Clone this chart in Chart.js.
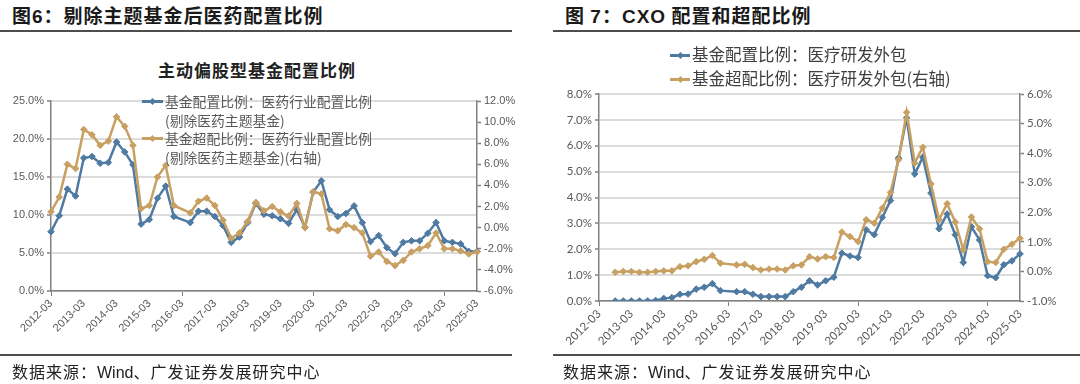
<!DOCTYPE html>
<html>
<head>
<meta charset="utf-8">
<script src="https://cdn.jsdelivr.net/npm/chart.js@4.4.1/dist/chart.umd.min.js"></script>
<style>
body { margin: 0; background: #fff; width: 1080px; height: 384px; overflow: hidden; position: relative; font-family: "Noto Sans CJK SC", sans-serif; }
.ttl { position: absolute; top: 1px; font-size: 19px; font-weight: bold; color: #1a1a1a; white-space: nowrap; letter-spacing: 1px; }
.ttl b { font-family: "Liberation Sans", Arial, sans-serif; }
.rule { position: absolute; height: 2px; background: #4d4d4d; }
.src { position: absolute; top: 359px; font-size: 16px; color: #222; white-space: nowrap; letter-spacing: 1px; }
.src span { font-family: "Liberation Sans", Arial, sans-serif; letter-spacing: 0; }
canvas { position: absolute; }
.sub { position: absolute; left: 158px; top: 57px; font-size: 17px; font-weight: bold; color: #222; letter-spacing: 1px; white-space: nowrap; }
.lg { position: absolute; white-space: nowrap; }
.lg .row { position: relative; }
.sw { position: absolute; height: 2.5px; }
.sw::after { content: ""; position: absolute; left: 50%; top: 50%; width: 5px; height: 5px; margin: -2.5px 0 0 -2.5px; background: inherit; transform: rotate(45deg); }
</style>
</head>
<body>

<div class="ttl" style="left:12px">图<b>6</b>：剔除主题基金后医药配置比例</div>
<div class="rule" style="left:0;top:30px;width:512px"></div>
<div class="ttl" style="left:565px">图 <b>7</b>：<b>CXO</b> 配置和超配比例</div>
<div class="rule" style="left:553px;top:30px;width:527px"></div>

<div class="sub">主动偏股型基金配置比例</div>

<canvas id="leftChart" width="540" height="315" style="left:0;top:40px"></canvas>
<canvas id="rightChart" width="535" height="315" style="left:545px;top:40px"></canvas>

<div class="lg" style="left:142px;top:92px;font-size:13.8px;color:#595959;line-height:18.5px">
  <div class="row" style="padding-left:23px"><i class="sw" style="left:0;top:8px;width:21px;background:#4f7aa1"></i>基金配置比例：医药行业配置比例</div>
  <div class="row" style="padding-left:23px">(剔除医药主题基金)</div>
  <div class="row" style="padding-left:23px"><i class="sw" style="left:0;top:8px;width:21px;background:#c8a062"></i>基金超配比例：医药行业配置比例</div>
  <div class="row" style="padding-left:23px">(剔除医药主题基金)(右轴)</div>
</div>

<div class="lg" style="left:670px;top:42px;font-size:16.5px;color:#404040;line-height:24px">
  <div class="row" style="padding-left:22px"><i class="sw" style="left:0;top:12px;width:20px;background:#4f7aa1"></i>基金配置比例：医疗研发外包</div>
  <div class="row" style="padding-left:22px"><i class="sw" style="left:0;top:12px;width:20px;background:#c8a062"></i>基金超配比例：医疗研发外包(右轴)</div>
</div>

<div class="rule" style="left:0;top:354px;width:512px"></div>
<div class="src" style="left:12px">数据来源：<span>Wind</span>、广发证券发展研究中心</div>
<div class="rule" style="left:553px;top:354px;width:527px"></div>
<div class="src" style="left:563px">数据来源：<span>Wind</span>、广发证券发展研究中心</div>

<script>
// 분기 라벨 (2012-03 ~ 2025-03)
const quarters = [
    '2012-03', '2012-06', '2012-09', '2012-12', '2013-03', '2013-06', '2013-09', '2013-12',
    '2014-03', '2014-06', '2014-09', '2014-12', '2015-03', '2015-06', '2015-09', '2015-12',
    '2016-03', '2016-06', '2016-09', '2016-12', '2017-03', '2017-06', '2017-09', '2017-12',
    '2018-03', '2018-06', '2018-09', '2018-12', '2019-03', '2019-06', '2019-09', '2019-12',
    '2020-03', '2020-06', '2020-09', '2020-12', '2021-03', '2021-06', '2021-09', '2021-12',
    '2022-03', '2022-06', '2022-09', '2022-12', '2023-03', '2023-06', '2023-09', '2023-12',
    '2024-03', '2024-06', '2024-09', '2024-12', '2025-03'
];

// 图6: 医药配置 / 超配 (剔除医药主题基金)
const pharmaAlloc = [
    7.8, 9.9, 13.4, 12.5, 17.5, 17.7, 16.8, 16.9, 19.6, 18.3, 16.6, 8.8, 9.4, 12.2, 13.8, 9.8,
    null, 9.0, 10.5, 10.5, 9.8, 8.6, 6.4, 7.1, 9.0, 11.5, 10.1, 9.9, 9.5, 8.9, 10.7, 8.4,
    13.0, 14.5, 10.7, 9.8, 10.2, 11.2, 9.0, 6.5, 7.3, 5.7, 4.9, 6.4, 6.6, 6.6, 7.6, 9.0,
    6.6, 6.4, 6.2, 5.2, 5.2
];
const pharmaOver = [
    1.5, 2.9, 6.0, 5.6, 9.3, 8.8, 7.8, 8.2, 10.5, 9.6, 7.8, 1.8, 2.1, 4.8, 5.9, 2.1,
    null, 1.4, 2.5, 2.8, 2.1, 0.7, -1.0, -0.5, 0.6, 2.4, 1.6, 2.0, 1.5, 1.1, 2.3, 0.0,
    3.4, 3.2, -0.1, -0.3, 0.3, 0.0, -0.5, -2.7, -2.3, -3.2, -3.6, -3.1, -2.3, -2.0, -1.7, -0.5,
    -2.0, -2.0, -2.2, -2.5, -2.3
];

// 图7: CXO 配置 / 超配
const cxoAlloc = [
    null, null, 0.0, 0.0, 0.0, 0.0, 0.0, 0.02, 0.1, 0.13, 0.26, 0.27, 0.46, 0.53, 0.67, 0.40,
    null, 0.36, 0.36, 0.26, 0.17, 0.17, 0.17, 0.17, 0.36, 0.53, 0.78, 0.62, 0.78, 0.92, 1.85, 1.74,
    1.68, 2.75, 2.56, 3.23, 3.88, 5.53, 7.08, 4.91, 5.56, 4.17, 2.79, 3.36, 2.56, 1.49, 2.87, 2.36,
    0.98, 0.90, 1.40, 1.55, 1.82
];
const cxoOver = [
    null, null, -0.03, 0.0, 0.0, -0.03, -0.03, 0.0, 0.02, 0.02, 0.16, 0.19, 0.33, 0.41, 0.54, 0.28,
    null, 0.22, 0.24, 0.13, 0.05, 0.08, 0.08, 0.05, 0.19, 0.22, 0.50, 0.42, 0.50, 0.47, 1.33, 1.18,
    1.01, 1.75, 1.63, 2.14, 2.67, 3.78, 5.38, 3.67, 4.20, 2.96, 1.75, 2.29, 1.67, 0.73, 1.84, 1.44,
    0.33, 0.30, 0.75, 0.92, 1.12
];

const BLUE = '#4f7aa1';
const GOLD = '#c8a062';
const AXIS = '#808080';
const GRID = '#dcdcdc';

function makeDataset(label, data, color, axis, order) {
    return {
        label: label,
        data: data,
        yAxisID: axis,
        order: order,
        borderColor: color,
        backgroundColor: color,
        borderWidth: 2.5,
        pointStyle: 'rectRot',
        pointRadius: 3.3,
        pointBorderWidth: 1,
        pointBackgroundColor: color,
        pointBorderColor: color,
        spanGaps: true,
        tension: 0
    };
}

// 두 차트 공통 옵션 생성
function buildOptions(cfg) {
    const tickFont = { family: cfg.font, size: cfg.size };
    const pct = v => v.toFixed(1) + '%';
    return {
        responsive: false,
        animation: false,
        layout: { padding: { top: cfg.top, left: 0, right: 0, bottom: 0 } },
        plugins: { legend: { display: false }, tooltip: { enabled: false } },
        scales: {
            x: {
                type: 'category',
                offset: false,
                afterFit: s => { s.height = cfg.xHeight; },
                grid: {
                    drawOnChartArea: false,
                    drawTicks: true,
                    tickLength: 5,
                    color: ctx => ctx.index % 4 === 0 ? AXIS : 'rgba(0,0,0,0)',
                    tickColor: ctx => ctx.index % 4 === 0 ? AXIS : 'rgba(0,0,0,0)'
                },
                border: { display: true, color: AXIS, width: 1.5 },
                ticks: {
                    autoSkip: false,
                    minRotation: 45,
                    maxRotation: 45,
                    padding: 1,
                    color: '#595959',
                    font: tickFont,
                    callback: function (v, i) { return i % 4 === 0 ? this.getLabelForValue(v) : null; }
                }
            },
            y: {
                position: 'left',
                min: cfg.yMin, max: cfg.yMax,
                afterFit: s => { s.width = cfg.yWidth; },
                grid: { color: GRID, lineWidth: 2, drawTicks: true, tickLength: 4, tickColor: AXIS, tickWidth: 1.5 },
                border: { display: true, color: AXIS, width: 1.5 },
                ticks: { stepSize: cfg.yStep, color: '#595959', font: tickFont, padding: 3, callback: pct }
            },
            y1: {
                position: 'right',
                min: cfg.y1Min, max: cfg.y1Max,
                afterFit: s => { s.width = cfg.y1Width; },
                grid: { drawOnChartArea: false, drawTicks: true, tickLength: 4, color: AXIS, tickColor: AXIS, tickWidth: 1.5 },
                border: { display: true, color: AXIS, width: 1.5 },
                ticks: { stepSize: cfg.y1Step, color: '#595959', font: tickFont, padding: 3, callback: pct }
            }
        }
    };
}

new Chart(document.getElementById('leftChart').getContext('2d'), {
    type: 'line',
    data: {
        labels: quarters,
        datasets: [
            makeDataset('基金配置比例：医药行业配置比例(剔除医药主题基金)', pharmaAlloc, BLUE, 'y', 1),
            makeDataset('基金超配比例：医药行业配置比例(剔除医药主题基金)(右轴)', pharmaOver, GOLD, 'y1', 0)
        ]
    },
    options: buildOptions({
        font: '"Liberation Sans", Arial, sans-serif', size: 11,
        top: 61, xHeight: 64, yWidth: 51, y1Width: 63,
        yMin: 0, yMax: 25, yStep: 5,
        y1Min: -6, y1Max: 12, y1Step: 2
    })
});

new Chart(document.getElementById('rightChart').getContext('2d'), {
    type: 'line',
    data: {
        labels: quarters,
        datasets: [
            makeDataset('基金配置比例：医疗研发外包', cxoAlloc, BLUE, 'y', 1),
            makeDataset('基金超配比例：医疗研发外包(右轴)', cxoOver, GOLD, 'y1', 0)
        ]
    },
    options: buildOptions({
        font: 'Lato, "Liberation Sans", sans-serif', size: 11.5,
        top: 54, xHeight: 54, yWidth: 54, y1Width: 60,
        yMin: 0, yMax: 8, yStep: 1,
        y1Min: -1, y1Max: 6, y1Step: 1
    })
});
</script>
</body>
</html>
